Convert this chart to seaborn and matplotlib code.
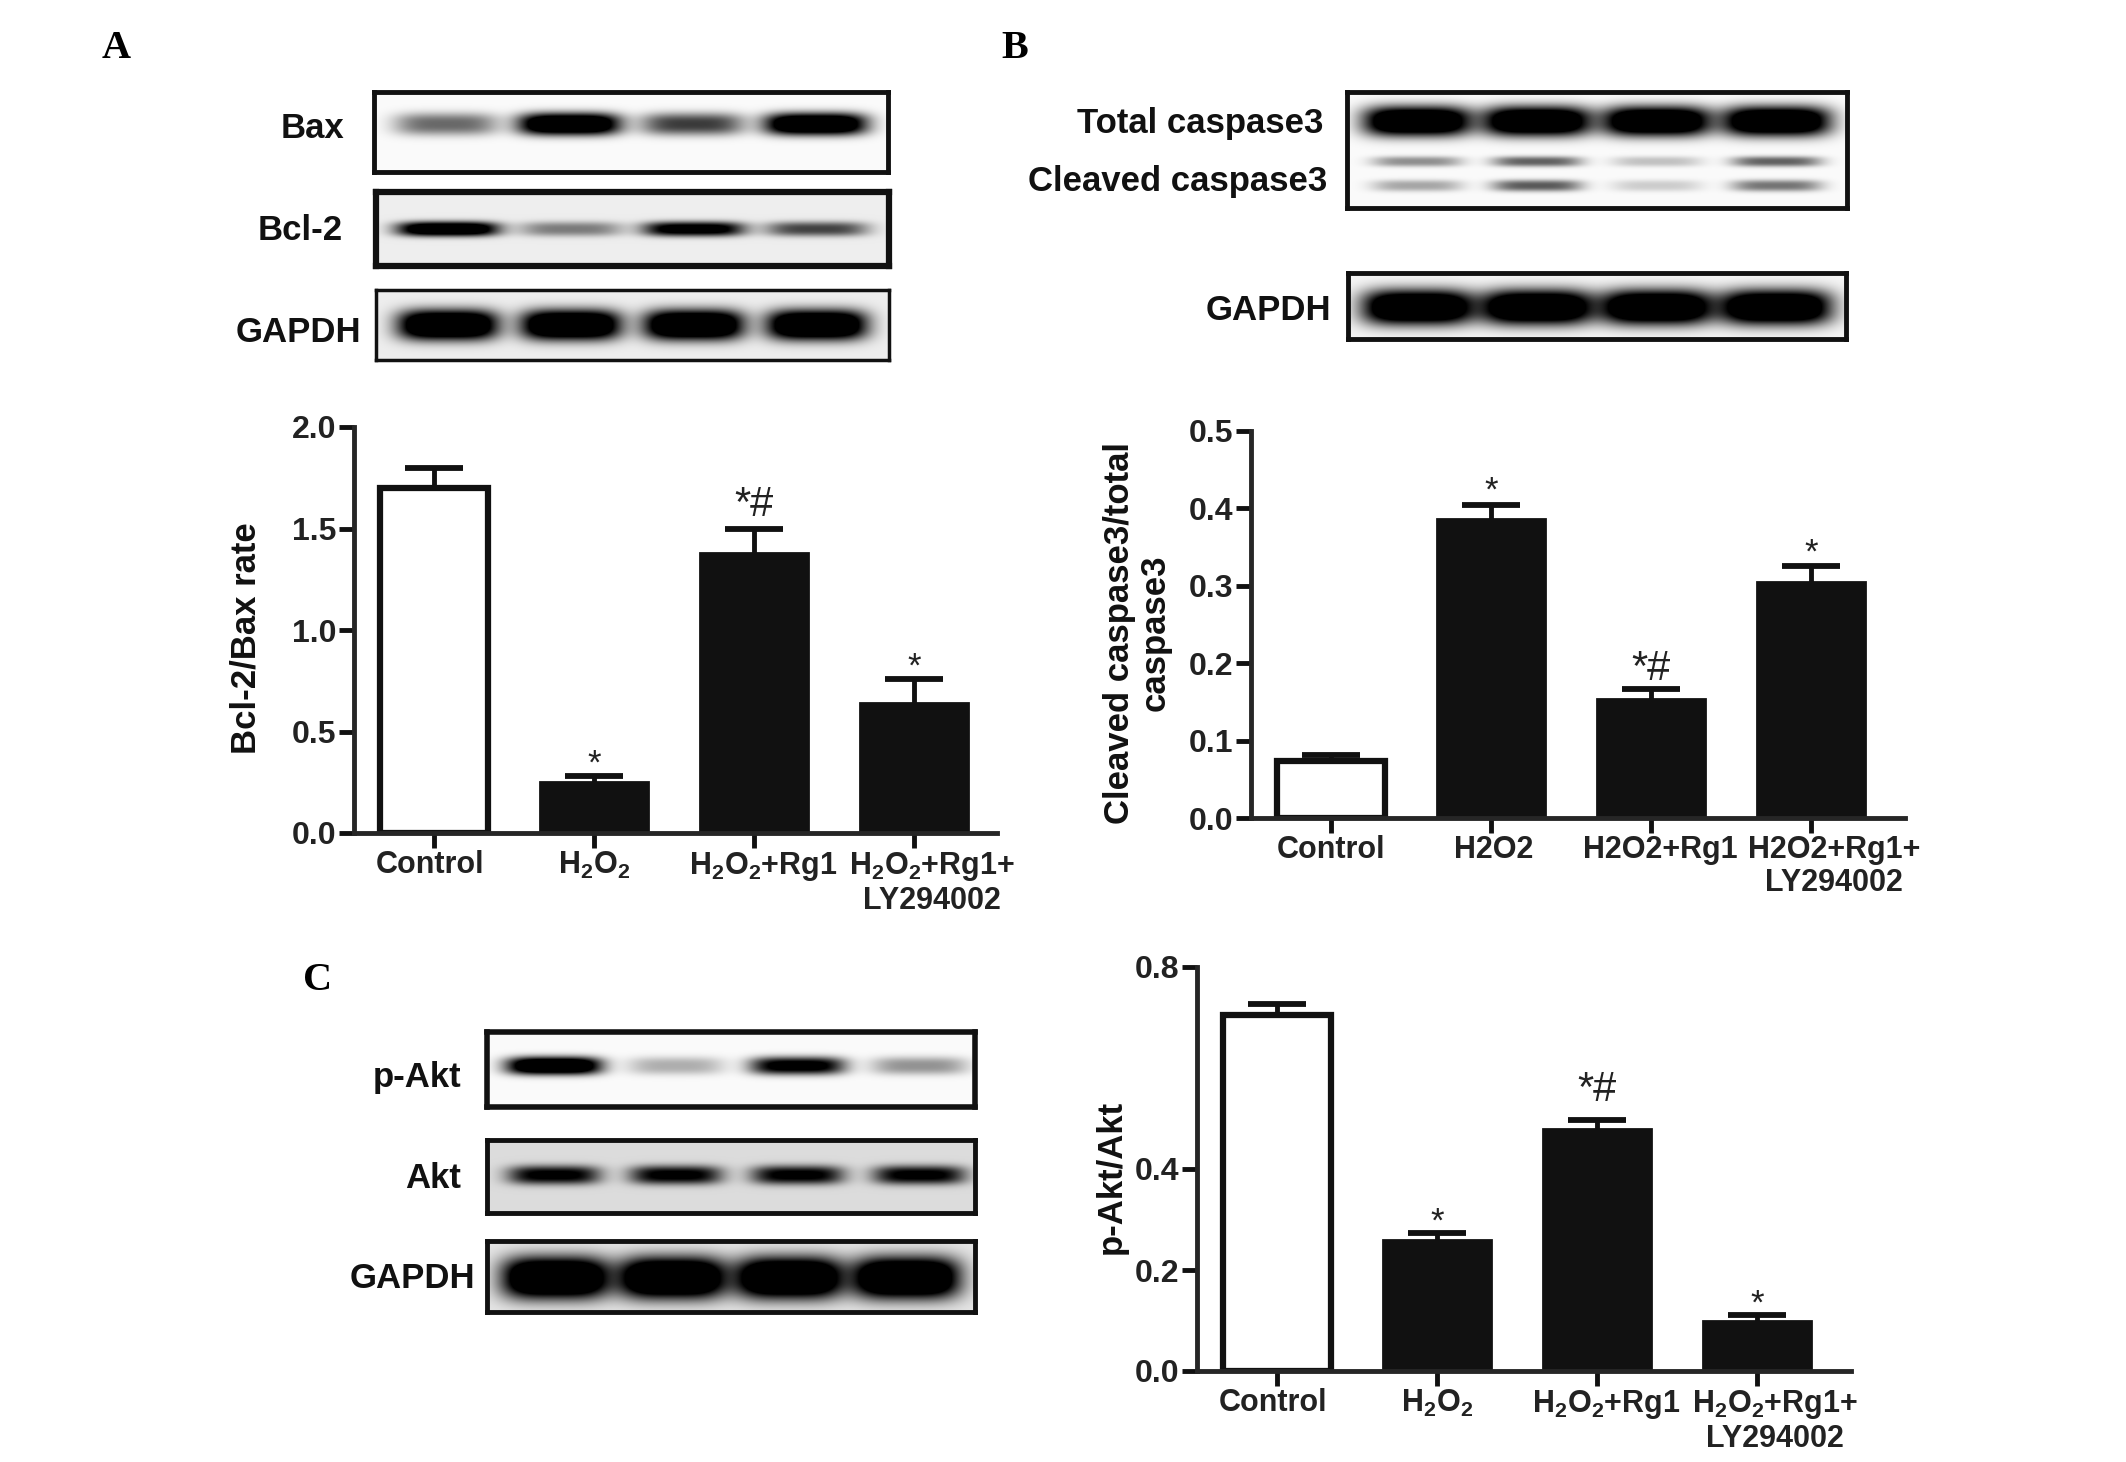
import numpy as np
import pandas as pd
import matplotlib
matplotlib.use("Agg")
import matplotlib.pyplot as plt
from matplotlib.transforms import ScaledTranslation
import seaborn as sns

W, H = 2126, 1462

groups = ["Control", "H2O2", "H2O2+Rg1", "H2O2+Rg1+LY"]
labels_a = ["Control", "H$_{2}$O$_{2}$", "H$_{2}$O$_{2}$+Rg1", "H$_{2}$O$_{2}$+Rg1+\nLY294002"]
labels_b = ["Control", "H2O2", "H2O2+Rg1", "H2O2+Rg1+\nLY294002"]

bcl_mean = [1.70, 0.25, 1.38, 0.64]
bcl_err = [0.10, 0.03, 0.12, 0.12]
casp_mean = [0.073, 0.386, 0.154, 0.305]
casp_err = [0.009, 0.019, 0.013, 0.021]
akt_mean = [0.705, 0.26, 0.48, 0.10]
akt_err = [0.022, 0.014, 0.017, 0.010]

bcl_ticks = [0.0, 0.5, 1.0, 1.5, 2.0]
casp_ticks = [0.0, 0.1, 0.2, 0.3, 0.4, 0.5]
akt_ticks = [0.0, 0.2, 0.4, 0.8]

marks = ["", "*", "*#", "*"]

# band darkness per lane, one list per blot
bax_bands = [0.38, 1.0, 0.5, 1.0]
bcl_bands = [0.9, 0.3, 0.75, 0.45]
gapdh_a_bands = [1.0, 1.0, 1.0, 1.0]
total_bands = [1.0, 1.0, 1.0, 1.0]
cleaved_up_bands = [0.28, 0.4, 0.15, 0.4]
cleaved_lo_bands = [0.22, 0.42, 0.12, 0.35]
gapdh_b_bands = [1.0, 1.0, 1.0, 1.0]
pakt_bands = [1.0, 0.2, 0.75, 0.27]
akt_bands = [0.62, 0.62, 0.62, 0.62]
gapdh_c_bands = [1.0, 1.0, 1.0, 1.0]


def new_ax(fig, left, top, right, bottom):
    return fig.add_axes([left / W, 1 - bottom / H, (right - left) / W, (bottom - top) / H])


def blot(fig, box, rows, bg=0.97, edge=3.5, start=0.14, step=0.24):
    # box in pixels, rows is a list of (y centre 0-1, half height 0-1, lane darkness, half width)
    left, top, right, bottom = box
    ax = new_ax(fig, left, top, right, bottom)
    nx, ny = int(right - left), int(bottom - top)
    xx, yy = np.meshgrid(np.linspace(0, 1, nx), np.linspace(0, 1, ny))
    dark = np.zeros((ny, nx))
    for cy, hh, lanes, hw in rows:
        for i, d in enumerate(lanes):
            cx = start + step * i
            dark += d * 1.5 * np.exp(-(np.abs((xx - cx) / hw) ** 4 + np.abs((yy - cy) / hh) ** 2.6))
    img = np.clip(bg - np.clip(dark, 0, 1), 0, 1)
    sns.heatmap(img, ax=ax, cmap="gray", vmin=0, vmax=1, cbar=False,
                xticklabels=False, yticklabels=False, rasterized=True)
    for s in ax.spines.values():
        s.set_visible(True)
        s.set_linewidth(edge)
        s.set_color("#111111")
    return ax


def bar_panel(fig, box, means, errs, ticks, ymax, xlabels, ylabel, star_off, hash_off, xend, ylab_x, shifts):
    left, top, bottom = box
    right = xend
    ax = new_ax(fig, left, top, right, bottom)
    df = pd.DataFrame({"group": groups, "value": means})
    sns.barplot(data=df, x="group", y="value", ax=ax, width=0.68, order=groups, color="#111111",
                edgecolor="#111111", linewidth=2, saturation=1)
    ax.patches[0].set_facecolor("white")
    ax.patches[0].set_linewidth(4.5)
    _, caps, _ = ax.errorbar(range(4), means, yerr=[[0] * 4, errs], fmt="none", ecolor="#111111",
                             elinewidth=3.5, capsize=21, capthick=4.2, zorder=1)
    caps[0].set_visible(False)
    ax.set_xlim(-0.5, (right - left) / 160 - 0.5)
    ax.set_ylim(0, ymax)
    ax.set_yticks(ticks)
    ax.set_yticklabels([f"{t:.1f}" for t in ticks], fontsize=23, fontweight="bold", color="#222222")
    ax.set_xticks(range(4))
    ax.set_xticklabels(xlabels, fontsize=22, fontweight="bold", color="#222222", linespacing=1.12)
    ax.set_xlabel("")
    ax.set_ylabel("")
    ax.tick_params(axis="both", bottom=True, left=True, width=3.5, length=10.5,
                   color="#111111", pad=2)
    # long group labels sit to the right of their tick
    for lab, dx in zip(ax.get_xticklabels(), shifts):
        lab.set_transform(lab.get_transform() + ScaledTranslation(dx / 100, 0, fig.dpi_scale_trans))
    sns.despine(ax=ax)
    ax.spines["left"].set_linewidth(3.5)
    ax.spines["bottom"].set_linewidth(3.5)
    for i, m in enumerate(marks):
        if m:
            off = hash_off if "#" in m else star_off
            ax.annotate(m, xy=(i, means[i] + errs[i]), xytext=(0, off * 0.72),
                        textcoords="offset points", ha="center", va="center",
                        fontsize=30 if "#" in m else 25, color="#222222")
    fig.text(ylab_x / W, 1 - ((top + bottom) / 2 + 8) / H, ylabel, rotation=90, ha="center", va="center",
             fontsize=25, fontweight="bold", color="#111111", linespacing=1.1)
    return ax


sns.set_theme(style="white")
plt.rcParams["font.family"] = ["Liberation Sans", "DejaVu Sans"]
plt.rcParams["mathtext.default"] = "regular"
plt.rcParams["mathtext.fontset"] = "custom"
plt.rcParams["mathtext.rm"] = "Liberation Sans:bold"

fig = plt.figure(figsize=(W / 100, H / 100), dpi=100, facecolor="white")

# panel letters
for s, x, y in [("A", 116, 48), ("B", 1015, 48), ("C", 318, 981)]:
    fig.text(x / W, 1 - y / H, s, fontsize=29, fontweight="bold", family="Liberation Serif",
             ha="center", va="center", color="black")

# blots panel A
blot(fig, (374, 92, 888, 172), [(0.40, 0.14, bax_bands, 0.10)], bg=0.98)
blot(fig, (376, 192, 889, 266), [(0.50, 0.10, bcl_bands, 0.10)], bg=0.93, edge=4.5)
blot(fig, (376, 290, 889, 360), [(0.50, 0.22, gapdh_a_bands, 0.098)], bg=0.93, edge=2.5)
# blots panel B
blot(fig, (1347, 92, 1847, 208), [(0.25, 0.13, total_bands, 0.108),
                                  (0.60, 0.045, cleaved_up_bands, 0.09),
                                  (0.81, 0.05, cleaved_lo_bands, 0.09)], bg=0.98)
blot(fig, (1348, 273, 1846, 339), [(0.52, 0.27, gapdh_b_bands, 0.112)], bg=0.96)
# blots panel C
blot(fig, (487, 1032, 975, 1107), [(0.45, 0.12, pakt_bands, 0.098)], bg=0.98, edge=4, start=0.137, step=0.25)
blot(fig, (487, 1140, 975, 1213), [(0.48, 0.13, akt_bands, 0.095)], bg=0.86, start=0.137, step=0.25)
blot(fig, (487, 1241, 975, 1312), [(0.52, 0.30, gapdh_c_bands, 0.11)], bg=0.90)

# blot labels
blot_text = [("Bax", 344, 128), ("Bcl-2", 343, 230), ("GAPDH", 361, 333),
             ("Total caspase3", 1323, 124), ("Cleaved caspase3", 1327, 181), ("GAPDH", 1331, 311),
             ("p-Akt", 461, 1077), ("Akt", 461, 1179), ("GAPDH", 475, 1278)]
for s, x, y in blot_text:
    fig.text(x / W, 1 - y / H, s, fontsize=25, fontweight="bold", ha="right", va="center", color="#111111")

bar_panel(fig, (354, 427, 833), bcl_mean, bcl_err, bcl_ticks, 2.0, labels_a,
          "Bcl-2/Bax rate", 12, 23, 997, 246, [-4, 0, 9, 18])
bar_panel(fig, (1251, 431, 818), casp_mean, casp_err, casp_ticks, 0.5, labels_b,
          "Cleaved caspase3/total\ncaspase3", 13, 20, 1905, 1137, [0, 3, 9, 23])
bar_panel(fig, (1197, 967, 1371), akt_mean, akt_err, akt_ticks, 0.8, labels_a,
          "p-Akt/Akt", 11, 30, 1851, 1111, [-4, 0, 9, 18])

fig.savefig("out.png", dpi=100, facecolor="white")
